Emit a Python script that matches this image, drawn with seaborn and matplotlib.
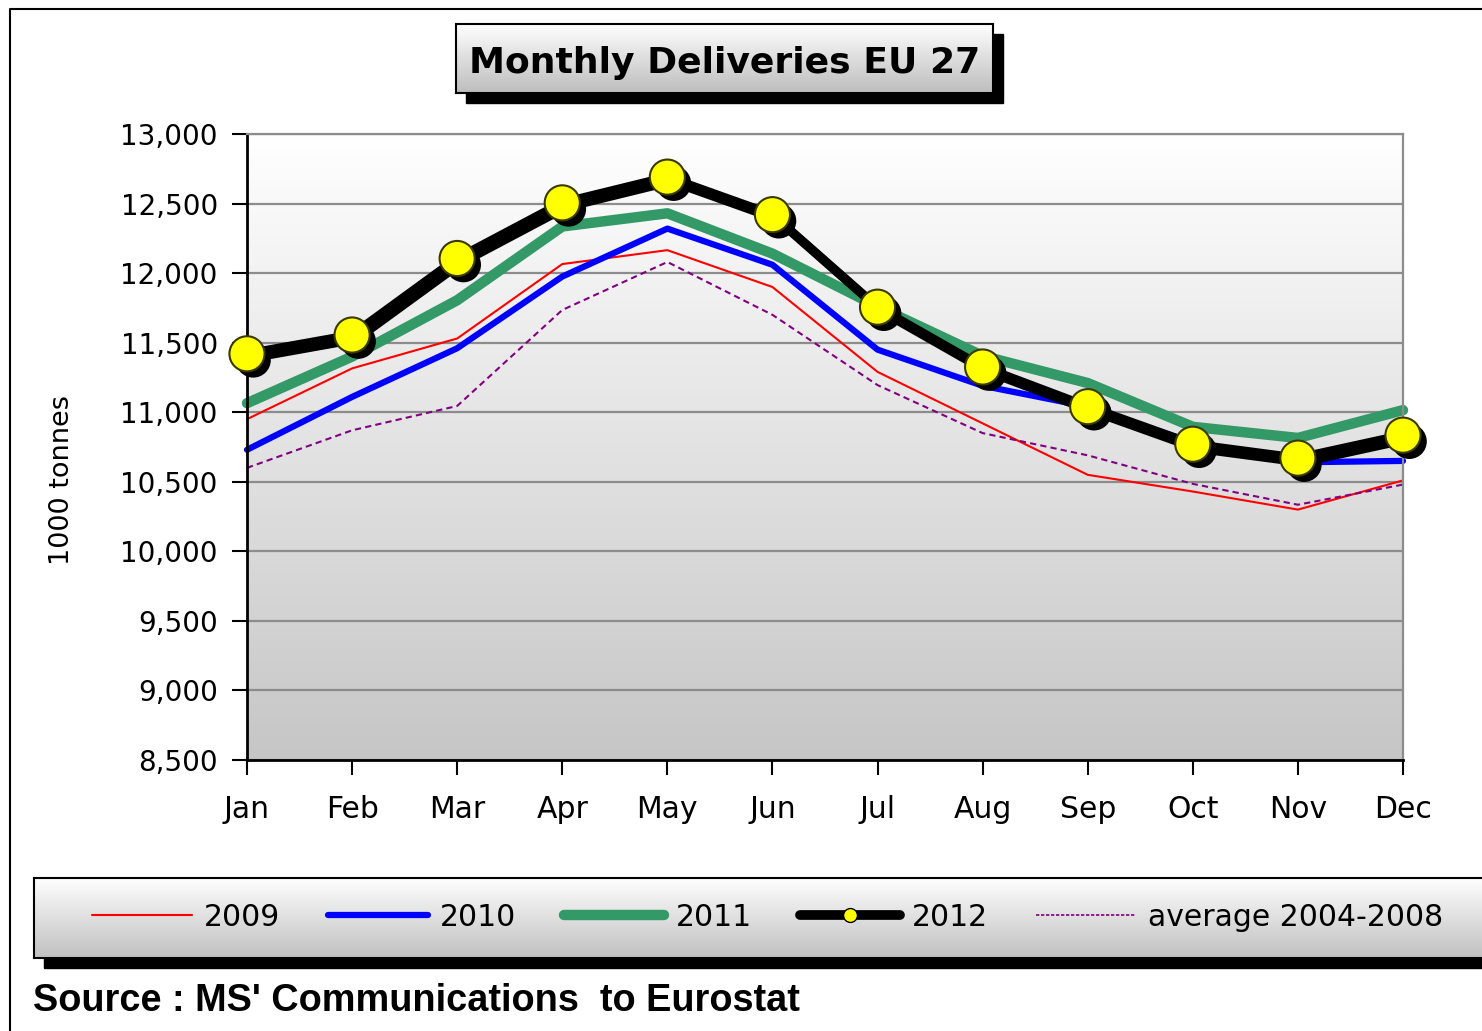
import numpy as np
import pandas as pd
import matplotlib
matplotlib.use('Agg')
import matplotlib.pyplot as plt
import matplotlib.patheffects as pe
from matplotlib.lines import Line2D
from matplotlib.patches import Rectangle
from matplotlib.colors import LinearSegmentedColormap
from matplotlib.ticker import FuncFormatter
import seaborn as sns

# Dati (1000 tonnes)
months = ['Jan', 'Feb', 'Mar', 'Apr', 'May', 'Jun', 'Jul', 'Aug', 'Sep', 'Oct', 'Nov', 'Dec']
d2009 = [10950, 11315, 11530, 12065, 12165, 11900, 11290, 10920, 10550, 10430, 10300, 10510]
d2010 = [10730, 11110, 11460, 11975, 12320, 12060, 11450, 11190, 11040, 10780, 10640, 10650]
d2011 = [11065, 11400, 11805, 12335, 12430, 12140, 11760, 11405, 11210, 10895, 10815, 11015]
d2012 = [11420, 11555, 12105, 12505, 12690, 12420, 11755, 11325, 11040, 10770, 10670, 10835]
davg = [10600, 10870, 11045, 11735, 12080, 11700, 11195, 10850, 10690, 10485, 10335, 10480]
y_ticks = list(range(8500, 13001, 500))

df = pd.DataFrame({'x': np.arange(len(months)), '2009': d2009, '2010': d2010,
                   '2011': d2011, '2012': d2012, 'avg': davg})

sns.set_theme(style='white')
plt.rcParams['font.family'] = ['DejaVu Sans']
plt.rcParams.update({'text.color': 'black', 'axes.labelcolor': 'black',
                     'xtick.color': 'black', 'ytick.color': 'black'})

W, H = 1482, 1031
fig = plt.figure(figsize=(W / 100, H / 100), dpi=100)
fig.patch.set_facecolor('white')


def fx(px):
    return px / W


def fy(py):
    return 1 - py / H


def gradient(a, top, bottom, z=-10):
    cmap = LinearSegmentedColormap.from_list('g', [top, bottom])
    g = np.linspace(0, 1, 256).reshape(-1, 1)
    a.imshow(g, cmap=cmap, extent=[0, 1, 0, 1], transform=a.transAxes,
             aspect='auto', zorder=z, interpolation='bicubic')


# Bordo esterno
fig.add_artist(Line2D([fx(10), fx(10), 1.0], [0.0, fy(9), fy(9)],
                      transform=fig.transFigure, color='black', lw=1.5))

# Area del grafico
ax = fig.add_axes([fx(247), fy(760), fx(1403) - fx(247), fy(134) - fy(760)])
gradient(ax, '#ffffff', '#c6c6c6')

sns.lineplot(data=df, x='x', y='2009', ax=ax, color='#ff0000', linewidth=1.5)
sns.lineplot(data=df, x='x', y='2010', ax=ax, color='#0000ff', linewidth=4.5)
sns.lineplot(data=df, x='x', y='2011', ax=ax, color='#339966', linewidth=7.5)
sns.lineplot(data=df, x='x', y='2012', ax=ax, color='black', linewidth=6.5,
             path_effects=[pe.SimpleLineShadow(offset=(3, -3), shadow_color='black',
                                               alpha=1, rho=1), pe.Normal()])
sns.lineplot(data=df, x='x', y='avg', ax=ax, color='#800080', linewidth=1.5,
             dashes=(3, 2))
sns.scatterplot(data=df, x='x', y='2012', ax=ax, s=640, color='#ffff00',
                edgecolor='#3a3a00', linewidth=1.5, zorder=5, clip_on=False)
ax.collections[-1].set_path_effects([pe.SimplePatchShadow(offset=(4.5, -4.5),
                                                          shadow_rgbFace='black', alpha=1),
                                     pe.Normal()])
for ln in ax.lines:
    ln.set_clip_on(False)

ax.set_xlim(0, len(months) - 1)
ax.set_ylim(8500, 13000)
ax.set_xticks(df['x'])
ax.set_xticklabels(months)
ax.set_yticks(y_ticks)
ax.yaxis.set_major_formatter(FuncFormatter(lambda v, p: f'{v:,.0f}'))
ax.set_xlabel('')
ax.set_ylabel('1000 tonnes', fontsize=19.5)
ax.yaxis.set_label_coords(-0.149, 0.447)
ax.yaxis.grid(True, color='#8c8c8c', lw=1.6)
ax.xaxis.grid(False)
ax.set_axisbelow(True)
ax.tick_params(axis='y', direction='out', length=11, width=1.5, color='black',
               left=True, labelsize=20, pad=10)
ax.tick_params(axis='x', direction='out', length=11, width=1.5, color='black',
               bottom=True, labelsize=21.5, pad=14)
for s in ['left', 'bottom']:
    ax.spines[s].set_color('black')
    ax.spines[s].set_linewidth(2)
for s in ['right', 'top']:
    ax.spines[s].set_color('#8c8c8c')
    ax.spines[s].set_linewidth(1.6)

# Titolo in riquadro con ombra
fig.add_artist(Rectangle((fx(466), fy(103)), fx(993) - fx(456), fy(24) - fy(93),
                         transform=fig.transFigure, color='black', zorder=-1))
tax = fig.add_axes([fx(456), fy(93), fx(993) - fx(456), fy(24) - fy(93)])
gradient(tax, '#ffffff', '#bdbdbd')
tax.set_xticks([])
tax.set_yticks([])
for s in tax.spines.values():
    s.set_color('black')
    s.set_linewidth(1.5)
tax.text(0.5, 0.43, 'Monthly Deliveries EU 27', ha='center', va='center',
         fontsize=26, fontweight='bold', transform=tax.transAxes)

# Riquadro legenda con ombra
fig.add_artist(Rectangle((fx(44), fy(968)), 1.0, fy(878) - fy(958),
                         transform=fig.transFigure, color='black', zorder=-1))
lax = fig.add_axes([fx(34), fy(958), 1.02 - fx(34), fy(878) - fy(958)])
gradient(lax, '#ffffff', '#c0c0c0')
lax.set_xticks([])
lax.set_yticks([])
for s in lax.spines.values():
    s.set_color('black')
    s.set_linewidth(1.5)

handles = [
    Line2D([], [], color='#ff0000', lw=1.5),
    Line2D([], [], color='#0000ff', lw=4.5, solid_capstyle='round'),
    Line2D([], [], color='#339966', lw=7.5, solid_capstyle='round'),
    Line2D([], [], color='black', lw=7, marker='o', markersize=10,
           markerfacecolor='#ffff00', markeredgecolor='black', markevery=[1],
           solid_capstyle='round'),
    Line2D([], [], color='#800080', lw=1.2, dashes=(2, 1)),
]
labels = ['2009', '2010', '2011', '2012', 'average 2004-2008']
fig.legend(handles, labels, loc='center left', bbox_to_anchor=(fx(92), fy(917)),
           ncol=5, frameon=False, fontsize=21.5, handlelength=3.35,
           handletextpad=0.4, columnspacing=1.6, borderpad=0, borderaxespad=0)

fig.text(fx(33), fy(1001), "Source : MS' Communications  to Eurostat",
         fontsize=27.3, fontweight='bold', family=['Liberation Sans', 'DejaVu Sans'],
         ha='left', va='center')

fig.savefig('out.png', dpi=100)
